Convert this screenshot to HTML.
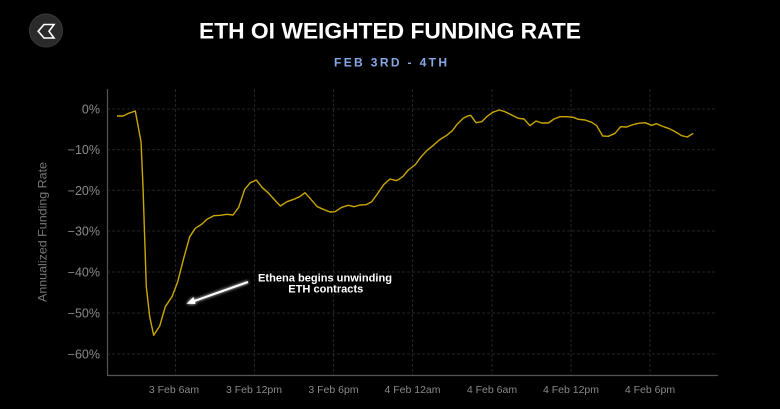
<!DOCTYPE html>
<html><head><meta charset="utf-8"><style>
html,body{margin:0;padding:0;background:#000;}
svg{display:block;}
text{font-family:"Liberation Sans",sans-serif;}
</style></head><body>
<svg width="780" height="409" viewBox="0 0 780 409" xmlns="http://www.w3.org/2000/svg">
<defs>
<filter id="glow" x="-50%" y="-50%" width="200%" height="200%">
<feGaussianBlur stdDeviation="1.6" result="b"/>
<feMerge><feMergeNode in="b"/><feMergeNode in="SourceGraphic"/></feMerge>
</filter>
</defs>
<rect width="780" height="409" fill="#000"/>
<!-- logo -->
<circle cx="46" cy="30.5" r="16.5" fill="#2a2a2a" stroke="#3a3a3a" stroke-width="1"/>
<path d="M54,24.5 H44 L38.2,31.3 L44,38 H54 L49,31.3 Z" fill="none" stroke="#fff" stroke-width="1.6" stroke-linejoin="miter"/>
<!-- title -->
<text x="390" y="38.5" text-anchor="middle" font-size="22" font-weight="bold" fill="#fff" textLength="382" lengthAdjust="spacingAndGlyphs">ETH OI WEIGHTED FUNDING RATE</text>
<text x="390.5" y="66.5" text-anchor="middle" font-size="12" font-weight="bold" fill="#86a8e6" textLength="113" lengthAdjust="spacing">FEB 3RD - 4TH</text>
<!-- gridlines -->
<g stroke="#232323" stroke-width="1" stroke-dasharray="3,2">
<line x1="107" y1="109" x2="717" y2="109"/>
<line x1="107" y1="149.7" x2="717" y2="149.7"/>
<line x1="107" y1="190.3" x2="717" y2="190.3"/>
<line x1="107" y1="231" x2="717" y2="231"/>
<line x1="107" y1="272" x2="717" y2="272"/>
<line x1="107" y1="313" x2="717" y2="313"/>
<line x1="107" y1="354" x2="717" y2="354"/>
<line x1="175.5" y1="89" x2="175.5" y2="375"/>
<line x1="254.5" y1="89" x2="254.5" y2="375"/>
<line x1="333.5" y1="89" x2="333.5" y2="375"/>
<line x1="412.5" y1="89" x2="412.5" y2="375"/>
<line x1="492" y1="89" x2="492" y2="375"/>
<line x1="571" y1="89" x2="571" y2="375"/>
<line x1="650" y1="89" x2="650" y2="375"/>
</g>
<!-- axes -->
<line x1="107.5" y1="89" x2="107.5" y2="375.5" stroke="#555" stroke-width="1.2"/>
<line x1="107" y1="375.5" x2="718" y2="375.5" stroke="#555" stroke-width="1.2"/>
<!-- y tick labels -->
<g font-size="12.5" fill="#8a8a8a" text-anchor="end">
<text x="100" y="113.5">0%</text>
<text x="100" y="154.2">−10%</text>
<text x="100" y="194.8">−20%</text>
<text x="100" y="235.5">−30%</text>
<text x="100" y="276.5">−40%</text>
<text x="100" y="317.5">−50%</text>
<text x="100" y="358.5">−60%</text>
</g>
<text transform="translate(46.5,232) rotate(-90)" text-anchor="middle" font-size="12" fill="#777" textLength="140" lengthAdjust="spacingAndGlyphs">Annualized Funding Rate</text>
<!-- x tick labels -->
<g font-size="10.5" fill="#8a8a8a" text-anchor="middle">
<text x="174" y="393">3 Feb 6am</text>
<text x="254" y="393">3 Feb 12pm</text>
<text x="333.5" y="393">3 Feb 6pm</text>
<text x="412.5" y="393">4 Feb 12am</text>
<text x="492" y="393">4 Feb 6am</text>
<text x="571" y="393">4 Feb 12pm</text>
<text x="650" y="393">4 Feb 6pm</text>
</g>
<!-- series -->
<polyline fill="none" stroke="#c9a600" stroke-width="1.4" stroke-linejoin="round" points="117,116 123,116 128.7,113.3 135.3,111 141,141.7 143,186.7 146.3,286.7 149.7,316.7 153.7,335.3 159.7,326 165.3,306.7 172,296.7 177.7,281.7 183.7,258.3 189.7,236.7 195.3,228.3 202,224 207,219.3 213.7,215.7 220.3,215.3 227,214.3 233,215 238.7,207.3 244.7,189.3 250.3,182.7 256.3,180 262,187.3 268.7,193.3 274.7,200 280.3,206 287,201.7 293.7,199.3 299.7,196.7 305,192.7 310,198.3 317.3,206.7 323.3,209.3 330,212 335,211.7 341.7,207.3 348.3,205.3 354,206.7 360,205 366,204.7 371.7,201.7 377.3,194 384,184.3 390,179 396.7,180.7 402.7,176.7 408.3,170 415,165 420.7,157.3 426.7,150.7 433.3,145.3 439.3,140 446.7,135.3 452.3,130.7 457.3,124 463.3,118.3 468.3,115.7 470.7,115.3 476,122.7 481.7,121.7 486.7,116.7 492.7,112.3 499.3,110 505,111.7 511.7,115 518.3,118.3 524,119 530,125.7 536,121 541.7,123 548.3,123 554,119 560,116.7 566.7,116.7 573.3,117.3 578.3,119.3 585,120 591.7,122.3 596.7,125.7 602.7,136 608.3,136.3 615,133.3 620.7,126.7 626.7,127 631.7,125 638.3,123.3 645,122.7 651.7,125.3 656.7,123.7 661.7,126 668.3,128.3 674,131 681.7,135.7 687.3,137 693.3,133.3"/>
<!-- annotation -->
<g filter="url(#glow)">
<line x1="248" y1="282" x2="192" y2="301.8" stroke="#fff" stroke-width="2"/>
<polygon points="186.5,303.8 193.5,297 195.5,304" fill="#fff"/>
</g>
<text x="325" y="281.7" text-anchor="middle" font-size="11" font-weight="bold" fill="#fff" textLength="134" lengthAdjust="spacingAndGlyphs">Ethena begins unwinding</text>
<text x="325.8" y="292.7" text-anchor="middle" font-size="11" font-weight="bold" fill="#fff" textLength="75" lengthAdjust="spacingAndGlyphs">ETH contracts</text>
</svg>
</body></html>
